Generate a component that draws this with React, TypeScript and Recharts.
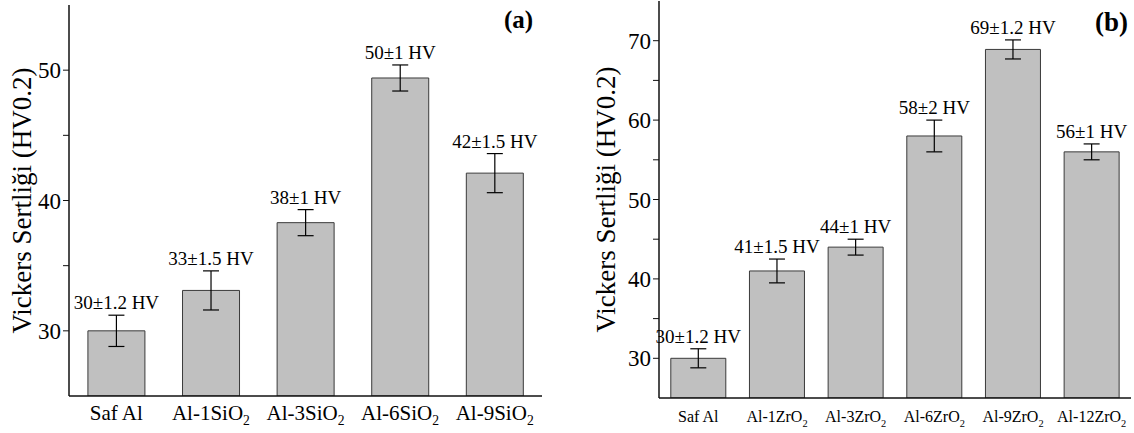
import { BarChart, Bar, XAxis, YAxis, ErrorBar, LabelList } from "recharts";

// (a) SiO2 reinforced samples
const siCategories = ["Saf Al", "Al-1SiO2", "Al-3SiO2", "Al-6SiO2", "Al-9SiO2"];
const siHardness = [30, 33.1, 38.3, 49.4, 42.1];
const siError = [1.2, 1.5, 1, 1, 1.5];
const siLabels = ["30±1.2 HV", "33±1.5 HV", "38±1 HV", "50±1 HV", "42±1.5 HV"];
const siTicks = [30, 35, 40, 45, 50];

// (b) ZrO2 reinforced samples
const zrCategories = ["Saf Al", "Al-1ZrO2", "Al-3ZrO2", "Al-6ZrO2", "Al-9ZrO2", "Al-12ZrO2"];
const zrHardness = [30, 41, 44, 58, 68.9, 56];
const zrError = [1.2, 1.5, 1, 2, 1.2, 1];
const zrLabels = ["30±1.2 HV", "41±1.5 HV", "44±1 HV", "58±2 HV", "69±1.2 HV", "56±1 HV"];
const zrTicks = [30, 35, 40, 45, 50, 55, 60, 65, 70];

const FONT = "'Liberation Serif', 'Times New Roman', serif";
const Y_TITLE = "Vickers Sertliği (HV0.2)";

type PanelProps = {
  categories: string[];
  values: number[];
  errors: number[];
  labels: string[];
  ticks: number[];
  domain: [number, number];
  width: number;
  yAxisWidth: number;
  xAxisHeight: number;
  top: number;
  right: number;
  gap: string;
  xFont: number;
  xDy: number;
  titleOffset: number;
};

function CatTick({ x, y, payload, fontSize, dy }: any) {
  const s: string = payload.value;
  const sub = s.endsWith("O2");
  const main = sub ? s.slice(0, -1) : s;
  return (
    <text x={x} y={y + dy} textAnchor="middle" fontFamily={FONT} fontSize={fontSize} fill="#000">
      <tspan>{main}</tspan>
      {sub && <tspan dy={5} fontSize={fontSize * 0.65}>2</tspan>}
    </text>
  );
}

function Panel(p: PanelProps) {
  const data = p.categories.map((c, i) => ({ name: c, value: p.values[i], err: p.errors[i] }));
  const base = p.domain[0];
  const renderLabel = (props: any) => {
    const { x, y, width, height, index } = props;
    const v = p.values[index];
    const perUnit = height / (v - base);
    const errPx = p.errors[index] * perUnit;
    return (
      <text
        x={x + width / 2}
        y={y - errPx - 6}
        textAnchor="middle"
        fontFamily={FONT}
        fontSize={19}
        fill="#000"
      >
        {p.labels[index]}
      </text>
    );
  };
  return (
    <BarChart
      width={p.width}
      height={433}
      data={data}
      margin={{ top: p.top, right: p.right, bottom: 0, left: 0 }}
      barCategoryGap={p.gap}
    >
      <XAxis
        dataKey="name"
        height={p.xAxisHeight}
        tickLine={false}
        axisLine={{ stroke: "#111", strokeWidth: 1.5 }}
        tick={<CatTick fontSize={p.xFont} dy={p.xDy} />}
        interval={0}
      />
      <XAxis xAxisId="top" orientation="top" dataKey="name" height={0} tick={false} tickLine={false} axisLine={{ stroke: "#777", strokeWidth: 1.5 }} />
      <YAxis
        width={p.yAxisWidth}
        domain={p.domain}
        ticks={p.ticks}
        allowDataOverflow
        tickFormatter={(v: number) => (v % 10 === 0 ? String(v) : "")}
        tick={{ fontFamily: FONT, fontSize: 23, fill: "#000" }}
        tickSize={6}
        tickLine={{ stroke: "#111" }}
        axisLine={{ stroke: "#111", strokeWidth: 1.5 }}
        label={{
          value: Y_TITLE,
          angle: -90,
          position: "insideLeft",
          offset: p.titleOffset,
          style: { fontFamily: FONT, fontSize: 27, fill: "#000", textAnchor: "middle" },
        }}
      />
      <YAxis yAxisId="right" orientation="right" width={0} domain={p.domain} tick={false} tickLine={false} axisLine={{ stroke: "#777", strokeWidth: 1.5 }} />
      <Bar dataKey="value" fill="#c0c0c0" stroke="#3a3a3a" strokeWidth={1} isAnimationActive={false}>
        <ErrorBar dataKey="err" width={8} stroke="#000" strokeWidth={1.2} />
        <LabelList dataKey="value" content={renderLabel} />
      </Bar>
    </BarChart>
  );
}

export default function App() {
  return (
    <div style={{ position: "fixed", left: 0, top: 0, width: 1134, height: 433, background: "#fff" }}>
      <div style={{ position: "absolute", left: 0, top: 0 }}>
        <Panel
          categories={siCategories}
          values={siHardness}
          errors={siError}
          labels={siLabels}
          ticks={siTicks}
          domain={[25, 55]}
          width={560}
          yAxisWidth={69}
          xAxisHeight={37}
          top={5}
          right={18}
          gap="20%"
          xFont={21}
          xDy={16}
          titleOffset={21}
        />
      </div>
      <div style={{ position: "absolute", left: 570, top: 0 }}>
        <Panel
          categories={zrCategories}
          values={zrHardness}
          errors={zrError}
          labels={zrLabels}
          ticks={zrTicks}
          domain={[25, 75]}
          width={564}
          yAxisWidth={89}
          xAxisHeight={35}
          top={1}
          right={3}
          gap="15%"
          xFont={16}
          xDy={16}
          titleOffset={35}
        />
      </div>
      <div style={{ position: "absolute", left: 504, top: 6, fontFamily: FONT, fontWeight: "bold", fontSize: 25 }}>(a)</div>
      <div style={{ position: "absolute", left: 1095, top: 7, fontFamily: FONT, fontWeight: "bold", fontSize: 27 }}>(b)</div>
    </div>
  );
}
